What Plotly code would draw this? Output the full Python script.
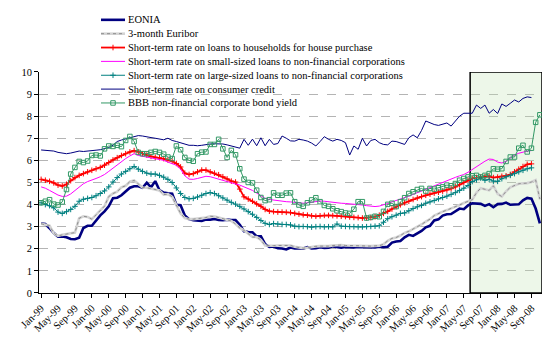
import pandas as pd
import plotly.graph_objects as go

# Monthly observations, Jan-99 .. Nov-08
months = pd.date_range("1999-01-01", "2008-11-01", freq="MS")
month_labels = [d.strftime("%b-%y") for d in months]
x_idx = list(range(len(months)))

eonia = [
    3.14, 3.12, 2.93, 2.71, 2.55, 2.56, 2.52, 2.44, 2.43, 2.50, 2.94, 3.04,
    3.04, 3.28, 3.51, 3.69, 3.92, 4.29, 4.31, 4.42, 4.59, 4.76, 4.83, 4.83,
    4.76, 4.99, 4.78, 5.06, 4.65, 4.54, 4.51, 4.49, 3.99, 3.97, 3.51, 3.34,
    3.29, 3.28, 3.26, 3.32, 3.31, 3.35, 3.30, 3.29, 3.32, 3.30, 3.30, 3.09,
    2.79, 2.76, 2.75, 2.56, 2.56, 2.21, 2.08, 2.10, 2.02, 2.01, 1.97, 2.06,
    2.02, 2.03, 2.01, 2.08, 2.02, 2.03, 2.07, 2.04, 2.05, 2.11, 2.09, 2.05,
    2.08, 2.06, 2.06, 2.08, 2.07, 2.06, 2.07, 2.06, 2.09, 2.07, 2.09, 2.28,
    2.33, 2.35, 2.52, 2.63, 2.58, 2.70, 2.81, 2.97, 3.04, 3.28, 3.33, 3.50,
    3.56, 3.57, 3.69, 3.82, 3.79, 3.96, 4.06, 4.05, 4.03, 3.94, 4.02, 3.88,
    4.02, 4.03, 4.09, 3.99, 4.01, 4.01, 4.19, 4.30, 4.27, 3.82, 3.15,
]

euribor_3m = [
    3.13, 3.09, 3.05, 2.70, 2.58, 2.63, 2.68, 2.70, 2.73, 3.38, 3.47, 3.44,
    3.34, 3.54, 3.75, 3.93, 4.36, 4.50, 4.58, 4.78, 4.85, 5.04, 5.09, 4.94,
    4.77, 4.76, 4.71, 4.68, 4.64, 4.45, 4.47, 4.35, 3.98, 3.60, 3.39, 3.34,
    3.34, 3.36, 3.39, 3.41, 3.47, 3.46, 3.41, 3.35, 3.31, 3.26, 3.12, 2.94,
    2.83, 2.69, 2.53, 2.53, 2.40, 2.15, 2.13, 2.14, 2.15, 2.14, 2.16, 2.15,
    2.09, 2.07, 2.03, 2.05, 2.09, 2.11, 2.12, 2.11, 2.12, 2.15, 2.17, 2.17,
    2.15, 2.14, 2.14, 2.14, 2.13, 2.11, 2.12, 2.13, 2.14, 2.20, 2.36, 2.47,
    2.51, 2.60, 2.72, 2.79, 2.89, 2.99, 3.10, 3.23, 3.34, 3.50, 3.60, 3.68,
    3.75, 3.82, 3.89, 3.98, 4.07, 4.15, 4.22, 4.54, 4.74, 4.69, 4.64, 4.85,
    4.48, 4.36, 4.60, 4.78, 4.86, 4.94, 4.96, 4.97, 5.02, 5.11, 4.24,
]

house_purchase = [
    5.14, 5.10, 5.05, 4.98, 4.88, 4.84, 4.92, 5.08, 5.22, 5.32, 5.40, 5.48,
    5.55, 5.62, 5.68, 5.78, 5.90, 6.02, 6.12, 6.22, 6.30, 6.38, 6.44, 6.38,
    6.30, 6.24, 6.18, 6.14, 6.12, 6.08, 6.02, 5.96, 5.86, 5.70, 5.42, 5.36,
    5.40, 5.48, 5.56, 5.56, 5.48, 5.42, 5.35, 5.26, 5.16, 5.06, 5.02, 4.70,
    4.35, 4.25, 4.15, 4.03, 3.92, 3.78, 3.70, 3.68, 3.66, 3.66, 3.65, 3.64,
    3.60, 3.57, 3.54, 3.52, 3.49, 3.47, 3.49, 3.51, 3.51, 3.50, 3.49, 3.47,
    3.46, 3.44, 3.42, 3.41, 3.39, 3.40, 3.41, 3.45, 3.52, 3.60, 3.69, 3.80,
    3.90, 3.99, 4.08, 4.15, 4.23, 4.30, 4.36, 4.42, 4.47, 4.52, 4.56, 4.61,
    4.66, 4.72, 4.80, 4.90, 5.00, 5.10, 5.18, 5.22, 5.24, 5.26, 5.28, 5.22,
    5.24, 5.28, 5.30, 5.36, 5.48, 5.60, 5.72, 5.82, 5.84,
]

small_loans_nfc = [
    4.80, 4.74, 4.64, 4.52, 4.43, 4.37, 4.38, 4.48, 4.64, 4.82, 4.94, 5.04,
    5.10, 5.18, 5.26, 5.36, 5.50, 5.65, 5.80, 5.95, 6.08, 6.20, 6.30, 6.22,
    6.18, 6.14, 6.10, 6.07, 6.04, 6.00, 5.92, 5.85, 5.78, 5.60, 5.30, 5.15,
    5.14, 5.18, 5.23, 5.28, 5.26, 5.20, 5.15, 5.10, 5.05, 4.98, 4.93, 4.88,
    4.80, 4.72, 4.64, 4.52, 4.38, 4.28, 4.23, 4.20, 4.17, 4.15, 4.13, 4.12,
    4.10, 4.08, 4.06, 4.08, 4.11, 4.14, 4.16, 4.15, 4.12, 4.10, 4.08, 4.06,
    4.05, 4.04, 4.02, 4.00, 3.98, 3.95, 3.92, 3.91, 3.93, 3.98, 4.05, 4.12,
    4.18, 4.24, 4.30, 4.38, 4.46, 4.54, 4.62, 4.70, 4.78, 4.86, 4.94, 5.02,
    5.10, 5.17, 5.23, 5.30, 5.36, 5.46, 5.58, 5.72, 5.86, 5.96, 6.06, 6.04,
    5.92, 5.88, 5.96, 6.10, 6.24, 6.32, 6.38, 6.42, 6.44,
]

large_loans_nfc = [
    4.08, 4.00, 3.95, 3.85, 3.66, 3.60, 3.68, 3.78, 3.92, 4.15, 4.24, 4.28,
    4.32, 4.40, 4.50, 4.62, 4.80, 5.02, 5.22, 5.38, 5.50, 5.62, 5.72, 5.60,
    5.50, 5.42, 5.38, 5.38, 5.32, 5.24, 5.14, 5.00, 4.75, 4.50, 4.32, 4.26,
    4.28, 4.34, 4.42, 4.50, 4.54, 4.50, 4.40, 4.30, 4.20, 4.10, 4.02, 3.92,
    3.80, 3.68, 3.56, 3.42, 3.28, 3.15, 3.10, 3.14, 3.12, 3.10, 3.10, 3.08,
    3.02, 3.00, 3.01, 3.00, 2.98, 3.00, 3.01, 2.99, 3.00, 2.99, 3.12, 3.02,
    3.01, 3.00, 3.00, 2.99, 2.99, 3.00, 3.01, 3.02, 3.04, 3.20, 3.36, 3.45,
    3.52, 3.60, 3.62, 3.72, 3.82, 3.90, 3.96, 4.06, 4.12, 4.18, 4.26, 4.32,
    4.38, 4.46, 4.54, 4.64, 4.74, 4.86, 5.04, 5.12, 5.20, 5.10, 5.14, 5.06,
    5.05, 5.17, 5.26, 5.32, 5.40, 5.48, 5.55, 5.62, 5.66,
]

consumer_credit = [
    6.47, 6.46, 6.45, 6.42, 6.36, 6.32, 6.30, 6.33, 6.38, 6.42, 6.40, 6.43,
    6.45, 6.46, 6.48, 6.52, 6.58, 6.68, 6.85, 6.92, 6.97, 7.02, 7.08, 7.12,
    7.10, 7.05, 7.03, 7.00, 6.98, 6.93, 7.00, 6.90, 6.85, 6.80, 6.72, 6.68,
    6.68, 6.66, 6.68, 6.72, 6.74, 6.75, 6.76, 6.74, 6.70, 6.64, 6.58, 6.55,
    6.95, 6.68, 6.96, 6.66, 7.02, 6.66, 6.95, 6.72, 6.76, 7.10, 7.00, 6.88,
    6.87, 6.95, 6.92, 6.87, 6.78, 6.65, 6.85, 7.07, 6.95, 6.87, 6.95, 6.90,
    6.80, 6.24, 6.65, 6.50, 7.00, 6.65, 6.90, 6.95, 6.80, 6.72, 6.70, 6.87,
    6.85, 6.77, 6.72, 7.02, 7.15, 7.02, 7.35, 7.78, 7.69, 7.62, 7.58, 7.62,
    7.69, 7.55, 7.80, 8.00, 8.13, 8.12, 8.13, 8.50, 8.35, 8.50, 8.13, 8.30,
    8.12, 8.55, 8.44, 8.58, 8.73, 8.64, 8.80, 8.87, 8.84,
]

bbb_yield = [
    4.08, 4.15, 4.22, 4.02, 3.98, 4.12, 4.68, 5.38, 5.68, 5.95, 5.90, 5.97,
    6.22, 6.24, 6.20, 6.52, 6.65, 6.63, 6.68, 6.62, 6.90, 7.08, 6.85, 6.36,
    6.30, 6.30, 6.36, 6.40, 6.36, 6.28, 6.15, 6.08, 6.65, 6.48, 6.13, 6.00,
    5.96, 6.30, 6.37, 6.38, 6.72, 6.72, 6.95, 6.52, 6.13, 6.45, 6.25, 5.62,
    5.15, 5.00, 4.98, 4.65, 4.32, 4.18, 4.22, 4.53, 4.42, 4.42, 4.52, 4.53,
    4.13, 3.98, 3.92, 4.08, 4.21, 4.31, 4.13, 3.96, 3.92, 3.81, 3.72, 3.68,
    3.62, 3.60, 3.79, 4.13, 4.13, 3.39, 3.42, 3.47, 3.45, 3.69, 4.01, 4.06,
    3.91, 4.13, 4.31, 4.50, 4.58, 4.68, 4.73, 4.61, 4.73, 4.70, 4.76, 4.80,
    4.88, 4.85, 4.95, 5.10, 5.18, 5.25, 5.30, 5.32, 5.25, 5.32, 5.40, 5.62,
    5.60, 5.62, 5.95, 6.15, 6.15, 6.55, 6.68, 6.38, 6.55, 7.72, 8.06,
]

TICK_STEP = 4
SHADE_FROM = "Jul-07"
FONT = "Liberation Serif"
FONT_SIZE = 10.5

NAVY = "#000080"
RED = "#ff0000"
MAGENTA = "#ff00ff"
TEAL = "#008080"
SEA_GREEN = "#339966"

# (legend text, values, line style, marker style, textured overlay)
series = [
    ("EONIA", eonia, dict(color=NAVY, width=2.6), None, None),
    ("3-month Euribor", euribor_3m, dict(color="#d4d4d4", width=2.6), None,
     dict(color="#8e8e8e", width=1, dash="dot")),
    ("Short-term rate on loans to households for house purchase", house_purchase,
     dict(color=RED, width=1.8),
     dict(symbol="cross-thin", size=4, line=dict(color=RED, width=1)), None),
    ("Short-term rate on small-sized loans to non-financial corporations", small_loans_nfc,
     dict(color=MAGENTA, width=1), None, None),
    ("Short-term rate on large-sized loans to non-financial corporations", large_loans_nfc,
     dict(color=TEAL, width=1),
     dict(symbol="cross-thin", size=4, line=dict(color=TEAL, width=1)), None),
    ("Short-term rate on consumer credit", consumer_credit,
     dict(color=NAVY, width=1), None, None),
    ("BBB non-financial corporate bond yield", bbb_yield,
     dict(color=SEA_GREEN, width=1),
     dict(symbol="square-open", size=4.5, color=SEA_GREEN, line=dict(color=SEA_GREEN, width=1)), None),
]

fig = go.Figure()

for name, vals, line, marker, overlay in series:
    xs = x_idx[:len(vals)]
    fig.add_trace(go.Scatter(
        x=xs, y=vals, name=name, mode="lines+markers" if marker else "lines",
        line=line, marker=marker, showlegend=False, hoverinfo="skip"))
    if overlay:
        fig.add_trace(go.Scatter(
            x=xs, y=vals, mode="lines", line=overlay,
            showlegend=False, hoverinfo="skip"))

# Legend drawn in pixel space on a hidden overlay subplot
PLOT_L, PLOT_R, PLOT_T, PLOT_B = 39, 542, 5, 293
LEG_X0, LEG_X1, LEG_TEXT_X = 101, 125, 126
LEG_Y0, LEG_GAP = 15, 14.1

annotations = []
for k, (name, vals, line, marker, overlay) in enumerate(series):
    ry = LEG_Y0 + k * LEG_GAP
    fig.add_trace(go.Scatter(
        x=[LEG_X0, LEG_X1], y=[ry, ry], mode="lines", line=line,
        xaxis="x2", yaxis="y2", showlegend=False, hoverinfo="skip"))
    if overlay:
        fig.add_trace(go.Scatter(
            x=[LEG_X0, LEG_X1], y=[ry, ry], mode="lines", line=overlay,
            xaxis="x2", yaxis="y2", showlegend=False, hoverinfo="skip"))
    if marker:
        fig.add_trace(go.Scatter(
            x=[(LEG_X0 + LEG_X1) / 2], y=[ry], mode="markers", marker=marker,
            xaxis="x2", yaxis="y2", showlegend=False, hoverinfo="skip"))
    annotations.append(dict(
        x=LEG_TEXT_X, y=ry, xref="x2", yref="y2", text=name, showarrow=False,
        xanchor="left", yanchor="middle", font=dict(family=FONT, size=FONT_SIZE, color="black")))

shade_start = month_labels.index(SHADE_FROM) - 0.5
x_end = len(months) - 0.5

fig.update_layout(
    width=553, height=343,
    margin=dict(l=PLOT_L, r=553 - PLOT_R, t=PLOT_T, b=343 - PLOT_B, pad=0),
    paper_bgcolor="white", plot_bgcolor="rgba(0,0,0,0)",
    showlegend=False,
    font=dict(family=FONT, size=FONT_SIZE, color="black"),
    xaxis=dict(
        domain=[0, 1], range=[-0.5, x_end],
        tickmode="array", tickvals=x_idx[::TICK_STEP], ticktext=month_labels[::TICK_STEP],
        tickangle=-45, ticks="outside", ticklen=4, tickcolor="black",
        showline=True, linecolor="black", linewidth=1,
        showgrid=False, zeroline=False, fixedrange=True,
        tickfont=dict(family=FONT, size=FONT_SIZE, color="black"),
    ),
    yaxis=dict(
        domain=[0, (PLOT_B - 68) / (PLOT_B - PLOT_T)], range=[0, 10], dtick=1,
        ticks="outside", ticklen=4, tickcolor="black",
        showline=True, linecolor="black", linewidth=1,
        showgrid=True, gridcolor="#b4b4b4", gridwidth=1, griddash="dash",
        zeroline=False, fixedrange=True,
        tickfont=dict(family=FONT, size=FONT_SIZE, color="black"),
    ),
    xaxis2=dict(domain=[0, 1], range=[PLOT_L, PLOT_R], anchor="y2",
                visible=False, fixedrange=True),
    yaxis2=dict(domain=[0, 1], range=[PLOT_B, PLOT_T], anchor="x2",
                visible=False, fixedrange=True),
    shapes=[dict(
        type="rect", xref="x", yref="y", x0=shade_start, x1=x_end, y0=0, y1=10,
        fillcolor="rgba(190,225,175,0.28)", line=dict(color="black", width=1.5),
        layer="between")],
    annotations=annotations,
)

fig.write_html("out.html")
